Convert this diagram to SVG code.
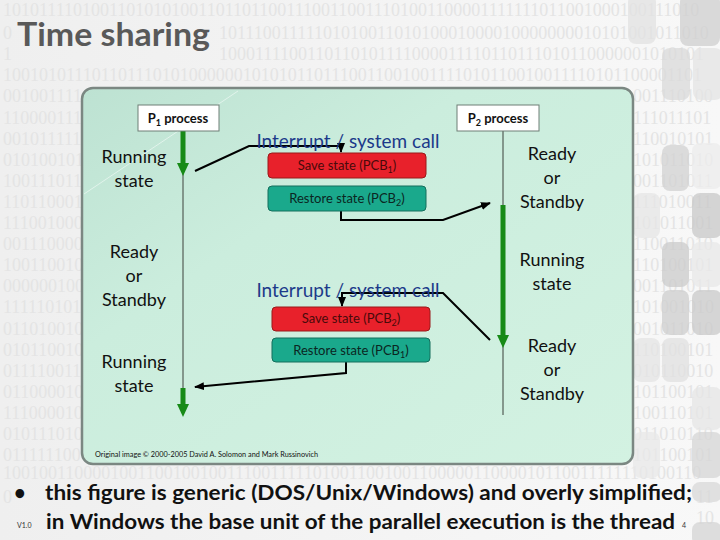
<svg xmlns="http://www.w3.org/2000/svg" width="720" height="540" viewBox="0 0 720 540">
<defs>
<linearGradient id="bg" x1="0" y1="0" x2="1" y2="0">
<stop offset="0" stop-color="#efefef"/><stop offset="1" stop-color="#f8f8f8"/>
</linearGradient>
<linearGradient id="panel" x1="0" y1="0" x2="1" y2="1">
<stop offset="0" stop-color="#bde2d2"/><stop offset="0.35" stop-color="#cbeddd"/><stop offset="1" stop-color="#d3f2e2"/>
</linearGradient>
<marker id="ah" markerUnits="userSpaceOnUse" markerWidth="10" markerHeight="8" viewBox="0 0 10 8" refX="9" refY="4" orient="auto">
<path d="M0,0 L10,4 L0,8 z" fill="#000"/>
</marker>
<style>
.bin{font-family:"Liberation Serif",serif;font-size:18px;fill:#e4e4e4}
.deco{opacity:0.75}
.lbl{font-family:Lato,"Liberation Sans",sans-serif;font-size:18px;fill:#111;text-anchor:middle}
.ic{font-family:Lato,"Liberation Sans",sans-serif;font-size:19px;fill:#1c3a8a;text-anchor:middle}
.box{font-family:Lato,"Liberation Sans",sans-serif;font-size:13px;text-anchor:middle}
.pbox{fill:#fff;stroke:#6f7f76;stroke-width:1}
.ptxt{font-family:Lato,"Liberation Sans",sans-serif;font-size:13px;font-weight:bold;fill:#111;text-anchor:middle}
.thin{stroke:#6b7a70;stroke-width:1.5;fill:none}
.green{stroke:#178a17;stroke-width:5;fill:none}
.gh{fill:#178a17}
.conn{stroke:#000;stroke-width:2;fill:none}
.red{fill:#e8212b;stroke:#9a1a1a;stroke-width:1}
.teal{fill:#1aa98c;stroke:#146e5c;stroke-width:1}
.foot{font-family:Lato,"Liberation Sans",sans-serif;font-weight:bold;font-size:20px;fill:#111}
</style>
</defs>
<rect x="0" y="0" width="720" height="540" fill="url(#bg)"/>
<g id="binary-background">
<text class="bin" x="3" y="16">1010111101001101010100110110110011100110011101001100001111111011001000100111010</text>
<text class="bin" x="3" y="39">0</text>
<text class="bin" x="219" y="39">1011100111110101001101010001000010000000010101001011010</text>
<text class="bin" x="3" y="60">1</text>
<text class="bin" x="219" y="60">1000111100110110101111000011110110111010110000001010101</text>
<text class="bin" x="3" y="81">1001010111011011101010000001010101101110011001001111010110010011110101100001101</text>
<text class="bin" x="3" y="102">001001111</text><text class="bin" x="633" y="102">001110100</text>
<text class="bin" x="3" y="124">110000111</text><text class="bin" x="633" y="124">111011101</text>
<text class="bin" x="3" y="145">001011111</text><text class="bin" x="633" y="145">110010101</text>
<text class="bin" x="3" y="166">010100101</text><text class="bin" x="633" y="166">101011010</text>
<text class="bin" x="3" y="187">100111011</text><text class="bin" x="633" y="187">001101011</text>
<text class="bin" x="3" y="208">110110001</text><text class="bin" x="633" y="208">111010011</text>
<text class="bin" x="3" y="229">111001000</text><text class="bin" x="633" y="229">101011001</text>
<text class="bin" x="3" y="250">001110000</text><text class="bin" x="633" y="250">110011010</text>
<text class="bin" x="3" y="271">100110010</text><text class="bin" x="633" y="271">110100101</text>
<text class="bin" x="3" y="292">000000100</text><text class="bin" x="633" y="292">001101011</text>
<text class="bin" x="3" y="313">111110101</text><text class="bin" x="633" y="313">101001010</text>
<text class="bin" x="3" y="335">011010010</text><text class="bin" x="633" y="335">001011010</text>
<text class="bin" x="3" y="356">010110010</text><text class="bin" x="633" y="356">110100101</text>
<text class="bin" x="3" y="377">011110011</text><text class="bin" x="633" y="377">010110010</text>
<text class="bin" x="3" y="398">011000010</text><text class="bin" x="633" y="398">101100101</text>
<text class="bin" x="3" y="419">111000010</text><text class="bin" x="633" y="419">100110101</text>
<text class="bin" x="3" y="440">010111010</text><text class="bin" x="633" y="440">011010110</text>
<text class="bin" x="3" y="461">011111100</text><text class="bin" x="633" y="461">101100101</text>
<text class="bin" x="3" y="479">1001001100001001100100100111001111101001100100110000011000010110011111110100110</text>
<text class="bin" x="3" y="503">0</text><text class="bin" x="696" y="503">11</text>
<text class="bin" x="696" y="524">10</text>
</g>
<g id="side-decoration">
<rect class="deco" x="628" y="-6" width="28" height="50" rx="8" fill="#e2e2e2"/>
<rect class="deco" x="680" y="-6" width="40" height="52" rx="8" fill="#cfcfcf"/>
<rect class="deco" x="662" y="48" width="28" height="52" rx="8" fill="#dadada"/>
<rect class="deco" x="693" y="48" width="30" height="52" rx="8" fill="#e4e4e4"/>
<rect class="deco" x="662" y="145" width="27" height="46" rx="8" fill="#d2d2d2"/>
<rect class="deco" x="692" y="143" width="30" height="46" rx="8" fill="#ececec"/>
<rect class="deco" x="633" y="193" width="27" height="45" rx="8" fill="#e6e6e6"/>
<rect class="deco" x="692" y="193" width="30" height="45" rx="8" fill="#c8c8c8"/>
<rect class="deco" x="662" y="242" width="27" height="45" rx="8" fill="#cbcbcb"/>
<rect class="deco" x="692" y="242" width="30" height="45" rx="8" fill="#e8e8e8"/>
<rect class="deco" x="662" y="290" width="27" height="45" rx="8" fill="#cdcdcd"/>
<rect class="deco" x="692" y="290" width="30" height="45" rx="8" fill="#c9c9c9"/>
<rect class="deco" x="633" y="338" width="27" height="44" rx="8" fill="#e4e4e4"/>
<rect class="deco" x="662" y="338" width="27" height="44" rx="8" fill="#e0e0e0"/>
<rect class="deco" x="692" y="387" width="30" height="43" rx="8" fill="#e6e6e6"/>
<rect class="deco" x="633" y="432" width="27" height="46" rx="8" fill="#e8e8e8"/>
<rect class="deco" x="692" y="432" width="30" height="46" rx="8" fill="#d6d6d6"/>
<rect class="deco" x="692" y="482" width="30" height="20" rx="8" fill="#d8d8d8"/>
<rect class="deco" x="692" y="522" width="30" height="24" rx="8" fill="#d4d4d4"/>
</g>
<text id="title" x="17" y="46" font-family="Lato,'Liberation Sans',sans-serif" font-weight="bold" font-size="33" fill="#595959" textLength="193" lengthAdjust="spacingAndGlyphs">Time sharing</text>
<g id="panel-bg">
<rect x="82" y="88" width="551" height="376" rx="11" fill="url(#panel)" stroke="#7b8782" stroke-width="2.5"/>
<line x1="84" y1="194" x2="238" y2="91" stroke="#ffffff" stroke-opacity="0.5" stroke-width="1"/>
</g>
<g id="connectors">
<line class="thin" x1="183" y1="131" x2="183" y2="395"/>
<line class="thin" x1="503" y1="131" x2="503" y2="415"/>
<line class="green" x1="183" y1="131" x2="183" y2="165"/>
<polygon class="gh" points="177,163 189,163 183,176"/>
<line class="green" x1="183" y1="388" x2="183" y2="406"/>
<polygon class="gh" points="177,404 189,404 183,417"/>
<line class="green" x1="503" y1="205" x2="503" y2="337"/>
<polygon class="gh" points="497,335 509,335 503,348"/>
<path class="conn" d="M195,171 L249,146 L341,146 L341,152" marker-end="url(#ah)"/>
<path class="conn" d="M341,211 L341,220 L443,220 L490,203" marker-end="url(#ah)"/>
<path class="conn" d="M490,340 L443,293 L342,293 L342,306" marker-end="url(#ah)"/>
<path class="conn" d="M346,362 L346,373 L195,387" marker-end="url(#ah)"/>
</g>
<g id="p1-process">
<rect class="pbox" x="138" y="105" width="81" height="26"/>
<text class="ptxt" x="178" y="123">P<tspan font-size="9" dy="3">1</tspan><tspan dy="-3"> process</tspan></text>
</g>
<g id="p2-process">
<rect class="pbox" x="457" y="105" width="82" height="26"/>
<text class="ptxt" x="498" y="123">P<tspan font-size="9" dy="3">2</tspan><tspan dy="-3"> process</tspan></text>
</g>
<g id="p1-running-1">
<text class="lbl" x="134" y="163">Running</text>
<text class="lbl" x="134" y="187">state</text>
</g>
<g id="p1-ready">
<text class="lbl" x="134" y="258">Ready</text>
<text class="lbl" x="134" y="282">or</text>
<text class="lbl" x="134" y="306">Standby</text>
</g>
<g id="p1-running-2">
<text class="lbl" x="134" y="368">Running</text>
<text class="lbl" x="134" y="392">state</text>
</g>
<g id="p2-ready-1">
<text class="lbl" x="552" y="160">Ready</text>
<text class="lbl" x="552" y="184">or</text>
<text class="lbl" x="552" y="208">Standby</text>
</g>
<g id="p2-running">
<text class="lbl" x="552" y="266">Running</text>
<text class="lbl" x="552" y="290">state</text>
</g>
<g id="p2-ready-2">
<text class="lbl" x="552" y="352">Ready</text>
<text class="lbl" x="552" y="376">or</text>
<text class="lbl" x="552" y="400">Standby</text>
</g>
<g id="switch-1">
<text class="ic" x="348" y="148">Interrupt / system call</text>
<rect class="red" x="268" y="153" width="158" height="25" rx="4"/>
<text class="box" x="347" y="170" fill="#4a0a0a">Save state (PCB<tspan font-size="9" dy="3">1</tspan><tspan dy="-3">)</tspan></text>
<rect class="teal" x="268" y="186" width="158" height="25" rx="4"/>
<text class="box" x="347" y="203" fill="#0b2622">Restore state (PCB<tspan font-size="9" dy="3">2</tspan><tspan dy="-3">)</tspan></text>
</g>
<g id="switch-2">
<text class="ic" x="348" y="297">Interrupt / system call</text>
<rect class="red" x="272" y="307" width="158" height="24" rx="4"/>
<text class="box" x="351" y="323" fill="#4a0a0a">Save state (PCB<tspan font-size="9" dy="3">2</tspan><tspan dy="-3">)</tspan></text>
<rect class="teal" x="272" y="338" width="158" height="24" rx="4"/>
<text class="box" x="351" y="355" fill="#0b2622">Restore state (PCB<tspan font-size="9" dy="3">1</tspan><tspan dy="-3">)</tspan></text>
</g>
<text id="copyright" x="95" y="457" font-family="Lato,'Liberation Sans',sans-serif" font-size="7" fill="#111" textLength="223" lengthAdjust="spacingAndGlyphs">Original image © 2000-2005 David A. Solomon and Mark Russinovich</text>
<g id="footer">
<text class="foot" x="14" y="500">•</text>
<text class="foot" x="45" y="500" textLength="647" lengthAdjust="spacingAndGlyphs">this figure is generic  (DOS/Unix/Windows) and overly simplified;</text>
<text class="foot" x="46" y="529" textLength="629" lengthAdjust="spacingAndGlyphs">in Windows the base unit of the parallel execution is the thread</text>
<text x="17" y="528" font-family="Lato,'Liberation Sans',sans-serif" font-size="7" fill="#333">V1.0</text>
<text x="682" y="528" font-family="Lato,'Liberation Sans',sans-serif" font-size="7" fill="#333">4</text>
</g>
</svg>
